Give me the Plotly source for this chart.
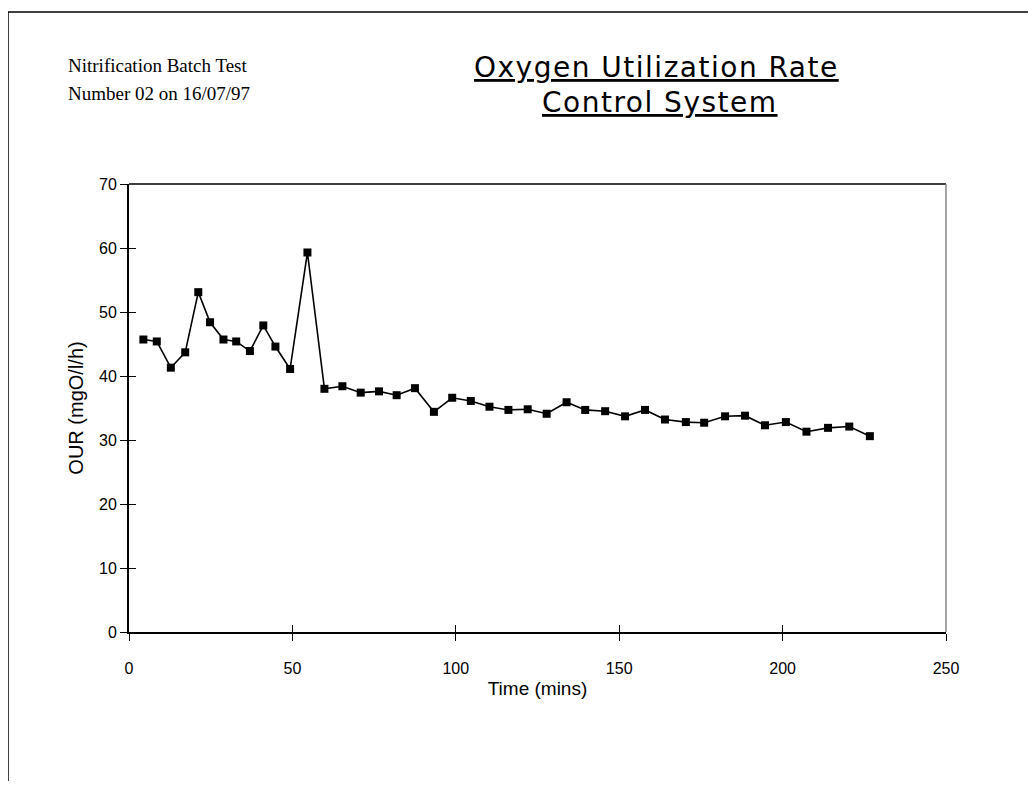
import plotly.graph_objects as go

time_min = [4.4, 8.5, 12.8, 17.2, 21.2, 24.8, 28.9, 32.8, 37.0, 41.1, 44.8, 49.3, 54.6,
            59.8, 65.3, 70.9, 76.5, 81.9, 87.5, 93.3, 98.9, 104.6, 110.3, 116.1, 122.0,
            127.8, 133.9, 139.6, 145.7, 151.8, 157.9, 164.0, 170.4, 176.0, 182.4, 188.5,
            194.6, 201.0, 207.3, 213.9, 220.4, 226.7]
our = [45.7, 45.4, 41.3, 43.7, 53.1, 48.4, 45.7, 45.4, 43.9, 47.9, 44.6, 41.1, 59.3,
       38.0, 38.4, 37.4, 37.6, 37.0, 38.1, 34.4, 36.6, 36.1, 35.2, 34.7, 34.8, 34.1,
       35.9, 34.7, 34.5, 33.7, 34.7, 33.2, 32.8, 32.7, 33.7, 33.8, 32.3, 32.8, 31.3,
       31.9, 32.1, 30.6]

x_ticks = [0, 50, 100, 150, 200, 250]
y_ticks = [0, 10, 20, 30, 40, 50, 60, 70]

OFF = 8  # browser body margin
W, H = 1036 - 2 * OFF, 789 - 2 * OFF
L, R, T, B = 129, 946, 184, 632  # plot area in page pixels

def px(x):
    return (x - L) / (R - L)

def py(y):
    return (B - y) / (B - T)

fig = go.Figure()
fig.add_trace(go.Scatter(
    x=time_min, y=our, mode="lines+markers",
    line=dict(color="black", width=1.6),
    marker=dict(symbol="square", size=8, color="black"),
    showlegend=False,
))
fig.add_trace(go.Scatter(x=[0], y=[0], xaxis="x2", yaxis="y2", mode="markers",
                         marker=dict(opacity=0), showlegend=False, hoverinfo="skip"))

axfont = dict(family="Liberation Sans, Arial", size=16, color="black")
fig.update_layout(
    width=W, height=H,
    margin=dict(l=L - OFF, r=W - (R - OFF), t=T - OFF, b=H - (B - OFF)),
    paper_bgcolor="white", plot_bgcolor="white",
    xaxis=dict(range=[0, 250], tickvals=x_ticks, ticks="outside", ticklen=7,
               tickcolor="black", showgrid=False, zeroline=False,
               showline=True, linecolor="black", linewidth=1.5,
               tickfont=axfont, ticklabelstandoff=14,
               title=dict(text="Time (mins)", font=dict(family="Liberation Sans, Arial", size=19, color="black"), standoff=6)),
    yaxis=dict(range=[0, 70], tickvals=y_ticks, ticks="outside", ticklen=7,
               tickcolor="black", showgrid=False, zeroline=False,
               showline=True, linecolor="black", linewidth=2,
               tickfont=axfont,
               title=dict(text="OUR (mgO/l/h)", font=dict(family="Liberation Sans, Arial", size=20, color="black"), standoff=10)),
    xaxis2=dict(range=[0, 250], tickvals=x_ticks, ticks="inside", ticklen=7,
                tickcolor="black", overlaying="x", showticklabels=False,
                showgrid=False, zeroline=False, showline=False),
    yaxis2=dict(range=[0, 70], tickvals=y_ticks, ticks="inside", ticklen=7,
                tickcolor="black", overlaying="y", showticklabels=False,
                showgrid=False, zeroline=False, showline=False),
)

fig.add_shape(type="line", xref="paper", yref="paper", x0=0, x1=1, y0=1, y1=1,
              line=dict(color="black", width=1.5))
fig.add_shape(type="line", xref="paper", yref="paper", x0=1, x1=1, y0=0, y1=1,
              line=dict(color="#888888", width=1.5))

# page border (left and top)
fig.add_shape(type="line", xref="paper", yref="paper", x0=px(8), x1=px(8), y0=py(800), y1=py(12),
              line=dict(color="black", width=1.5))
fig.add_shape(type="line", xref="paper", yref="paper", x0=px(8), x1=px(1040), y0=py(12), y1=py(12),
              line=dict(color="black", width=1.5))

tstyle = "text-decoration:underline;letter-spacing:1.5px"
tfont = dict(family="DejaVu Sans, Verdana", size=28, color="black")
fig.add_annotation(xref="paper", yref="paper", x=px(656), y=py(67), xanchor="center", yanchor="middle",
                   text=f"<span style='{tstyle}'>Oxygen Utilization Rate</span>",
                   showarrow=False, font=tfont)
fig.add_annotation(xref="paper", yref="paper", x=px(660), y=py(102), xanchor="center", yanchor="middle",
                   text=f"<span style='{tstyle}'>Control System</span>",
                   showarrow=False, font=tfont)
fig.add_annotation(xref="paper", yref="paper", x=px(66), y=py(66), xanchor="left", yanchor="middle",
                   text="Nitrification Batch Test", showarrow=False,
                   font=dict(family="Liberation Serif, Times New Roman", size=19, color="black"))
fig.add_annotation(xref="paper", yref="paper", x=px(66), y=py(93), xanchor="left", yanchor="middle",
                   text="Number 02 on 16/07/97", showarrow=False,
                   font=dict(family="Liberation Serif, Times New Roman", size=19, color="black"))

fig.write_html("out.html")
